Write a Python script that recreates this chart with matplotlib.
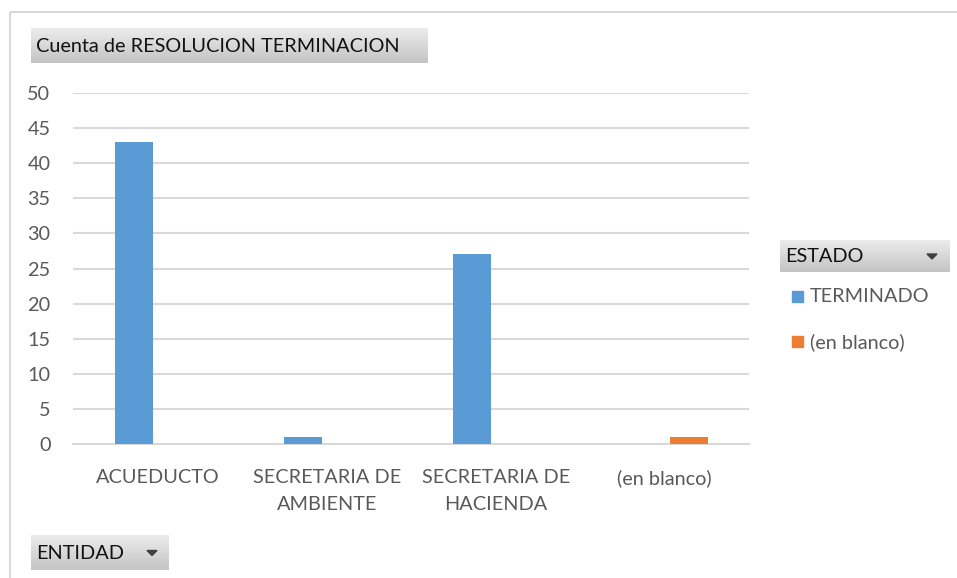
import matplotlib.pyplot as plt
import numpy as np
from matplotlib.patches import Rectangle, Polygon
from matplotlib.colors import LinearSegmentedColormap

# Data
categories = ["ACUEDUCTO", "SECRETARIA DE\nAMBIENTE", "SECRETARIA DE\nHACIENDA", "(en blanco)"]
terminado = [43, 1, 27, 0]
en_blanco = [0, 0, 0, 1]
series_names = ["TERMINADO", "(en blanco)"]
colors = ["#5b9bd5", "#ed7d31"]

W, H = 957, 578
fig = plt.figure(figsize=(W / 100, H / 100), dpi=100)
plt.rcParams['font.family'] = ['Lato', 'DejaVu Sans']
fs = 14.3

# Overlay axes in pixel coordinates for the frame and pivot buttons
over = fig.add_axes([0, 0, 1, 1], zorder=0)
over.set_xlim(0, W)
over.set_ylim(H, 0)
over.axis('off')
over.add_patch(Rectangle((10, 12), 960, 580, fill=False, edgecolor='#d9d9d9', linewidth=1.5))

grad = np.linspace(0, 1, 50).reshape(-1, 1)
gcmap = LinearSegmentedColormap.from_list('g', ['#ececec', '#c4c4c4'])

def button(x0, y0, x1, y1, label, arrow=None):
    over.imshow(grad, extent=(x0, x1, y1, y0), cmap=gcmap, aspect='auto', zorder=1)
    over.text(x0 + 5, (y0 + y1) / 2 + 1, label, fontsize=fs, va='center', ha='left', color='#111111', zorder=2)
    if arrow is not None:
        ay = (y0 + y1) / 2
        over.add_patch(Polygon([(arrow - 5, ay - 2), (arrow + 5, ay - 2), (arrow, ay + 3)],
                               closed=True, color='#404040', zorder=2))

button(31, 28, 428, 63, "Cuenta de RESOLUCION TERMINACION")
button(780, 240, 950, 272, "ESTADO", arrow=932)
button(31, 535, 169, 570, "ENTIDAD", arrow=152)

# Legend
for i, (name, c) in enumerate(zip(series_names, colors)):
    yy = 297 + i * 45
    over.add_patch(Rectangle((792, yy - 6), 11, 11, color=c, zorder=2))
    over.text(810, yy, name, fontsize=fs, va='center', ha='left', color='#595959', zorder=2)

# Main chart
ax = fig.add_axes([73.3 / W, 1 - 444 / H, (749.3 - 73.3) / W, (444 - 93) / H], zorder=1)
ax.patch.set_alpha(0)
x = np.arange(len(categories))
bw = 0.227
ax.bar(x - 0.142, terminado, width=bw, color=colors[0], zorder=3)
ax.bar(x + 0.142, en_blanco, width=bw, color=colors[1], zorder=3)

ax.set_xlim(-0.5, len(categories) - 0.5)
ax.set_ylim(0, 50)
ax.set_yticks(range(0, 51, 5))
ax.yaxis.grid(True, color='#d9d9d9', linewidth=1.5, zorder=0)
ax.set_axisbelow(True)
for s in ['top', 'right', 'left']:
    ax.spines[s].set_visible(False)
ax.spines['bottom'].set_color('#d9d9d9')
ax.spines['bottom'].set_linewidth(1.5)
ax.tick_params(axis='both', length=0, labelsize=fs, colors='#595959')
ax.tick_params(axis='y', pad=16.5)
ax.tick_params(axis='x', pad=18)
ax.set_xticks(x)
ax.set_xticklabels(categories, linespacing=1.7)

fig.savefig("out.png", dpi=100)
